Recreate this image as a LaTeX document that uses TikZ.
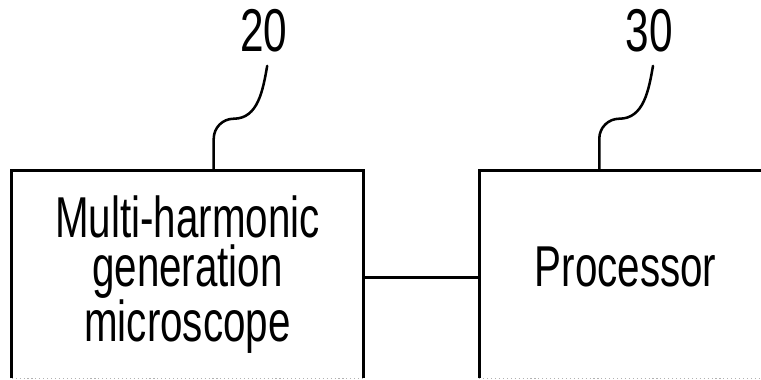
\documentclass[tikz,border=0pt]{standalone}
\usepackage{fontspec}
\setmainfont[FakeStretch=0.70]{Liberation Sans}
\usetikzlibrary{positioning}

\begin{document}
\begin{tikzpicture}[
    node distance=2.9cm,
    block/.style={rectangle, minimum height=5.175cm, align=center, font=\fontsize{41}{34.6}\selectfont},
    refnum/.style={font=\fontsize{43}{44}\selectfont, inner xsep=0pt, inner ysep=0.33cm},
    edge/.style={line width=1.8pt, line join=miter},
    faint/.style={line width=0.8pt, gray!60, dotted},
    leader/.style={line width=1.8pt, line cap=round}
    ]
    \useasboundingbox (0,0) rectangle (19.025,9.5);

    \node[block, minimum width=8.775cm] (mhg) at (4.6875,2.6375) {Multi-harmonic\\generation\\microscope};
    \node[block, minimum width=7.3cm, text depth=0.4cm, right=of mhg] (proc) {Processor};

    % box outlines (bottom edge only faintly visible)
    \draw[edge] (mhg.south west) -- (mhg.north west) -- (mhg.north east) -- (mhg.south east);
    \draw[faint] (mhg.south west) -- (mhg.south east);
    \draw[edge] (proc.south west) -- (proc.north west) -- (proc.north east);
    \draw[faint] (proc.south west) -- (proc.south east);

    \draw[edge] ([yshift=-0.075cm]mhg.east) -- ([yshift=-0.075cm]proc.west);

    % reference numerals
    \node[refnum] (n20) at (6.6,8.725) {20};
    \node[refnum] (n30) at (16.225,8.725) {30};

    \coordinate (t20) at ([xshift=5.05cm]mhg.north west);
    \coordinate (t30) at ([xshift=3.0cm]proc.north west);

    \draw[leader] (t20) -- ++(0,0.8) to[out=90, in=180] ++(0.5,0.5) to[out=0, in=-100] ([xshift=0.08cm]n20.south);
    \draw[leader] (t30) -- ++(0,0.8) to[out=90, in=180] ++(0.5,0.5) to[out=0, in=-100] ([xshift=0.1cm]n30.south);
\end{tikzpicture}
\end{document}
